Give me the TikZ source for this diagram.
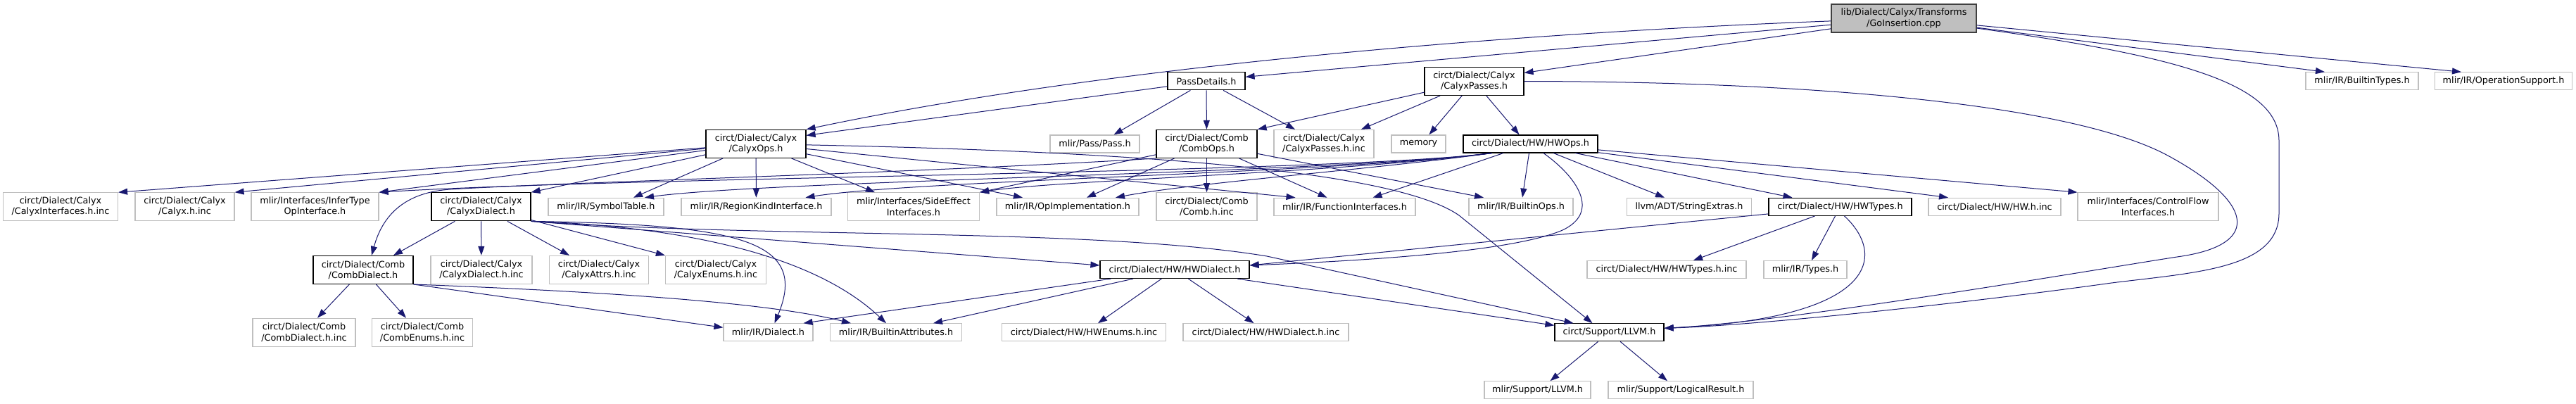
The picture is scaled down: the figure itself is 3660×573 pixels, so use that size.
\documentclass[tikz,border=0pt]{standalone}
\usepackage{fontspec}
\setmainfont{DejaVu Sans}
\usetikzlibrary{arrows.meta}
\definecolor{grey75}{HTML}{BFBFBF}
\definecolor{grey25}{HTML}{404040}
\definecolor{edgeblue}{HTML}{191970}
\newcommand{\nodefont}{\fontsize{12.8pt}{15.3pt}\selectfont}
\tikzset{
  hdr/.style={draw=black, line width=1.2pt, fill=white, inner sep=0pt, minimum height=25pt, align=center, font=\nodefont},
  hdrtwo/.style={hdr, minimum height=40pt},
  leaf/.style={hdr, draw=grey75},
  leaftwo/.style={hdrtwo, draw=grey75},
  rootbox/.style={hdrtwo, fill=grey75, draw=grey25},
  dep/.style={draw=edgeblue, line width=1pt, -{Triangle[length=13pt,width=9pt]}},
}
\begin{document}
\begin{tikzpicture}[x=1pt,y=-1pt]
\fill[white] (0,0) rectangle (3660,573);
\useasboundingbox (0,0) rectangle (3660,573);
% row 0
\node[rootbox, minimum width=206pt] (src) at (2705,26) {lib/Dialect/Calyx/Transforms\\/GoInsertion.cpp};
% row 1
\node[hdr, minimum width=110pt] (passdetails) at (1714,115.3) {PassDetails.h};
\node[hdrtwo, minimum width=141pt] (calyxpasses) at (2094.5,115.5) {circt/Dialect/Calyx\\/CalyxPasses.h};
\node[leaf, minimum width=160pt] (builtintypes) at (3356,115.3) {mlir/IR/BuiltinTypes.h};
\node[leaf, minimum width=195pt] (opsupport) at (3557,115.3) {mlir/IR/OperationSupport.h};
% row 2
\node[hdrtwo, minimum width=142pt] (calyxops) at (1074,204.4) {circt/Dialect/Calyx\\/CalyxOps.h};
\node[leaf, minimum width=127pt] (pass) at (1555.5,204.4) {mlir/Pass/Pass.h};
\node[hdrtwo, minimum width=143pt] (combops) at (1714.5,204.4) {circt/Dialect/Comb\\/CombOps.h};
\node[leaftwo, minimum width=142pt] (cpinc) at (1881,204.4) {circt/Dialect/Calyx\\/CalyxPasses.h.inc};
\node[leaf, minimum width=77pt] (memory) at (2015.5,204.4) {memory};
\node[hdr, minimum width=191pt] (hwops) at (2174.5,204.4) {circt/Dialect/HW/HWOps.h};
% row 3
\node[leaftwo, minimum width=163pt] (cinc) at (86,293.8) {circt/Dialect/Calyx\\/CalyxInterfaces.h.inc};
\node[leaftwo, minimum width=141pt] (calyxinc) at (262.5,293.8) {circt/Dialect/Calyx\\/Calyx.h.inc};
\node[leaftwo, minimum width=181pt] (infer) at (447.5,293.8) {mlir/Interfaces/InferType\\OpInterface.h};
\node[hdrtwo, minimum width=141pt] (calyxdialect) at (683.5,293.8) {circt/Dialect/Calyx\\/CalyxDialect.h};
\node[leaf, minimum width=164pt] (symtab) at (861,293.8) {mlir/IR/SymbolTable.h};
\node[leaf, minimum width=213pt] (regionkind) at (1074.5,293.8) {mlir/IR/RegionKindInterface.h};
\node[leaftwo, minimum width=187pt] (sideeffect) at (1298,293.8) {mlir/Interfaces/SideEffect\\Interfaces.h};
\node[leaf, minimum width=202pt] (opimpl) at (1517,293.8) {mlir/IR/OpImplementation.h};
\node[leaftwo, minimum width=143pt] (combinc) at (1714.5,293.8) {circt/Dialect/Comb\\/Comb.h.inc};
\node[leaf, minimum width=201pt] (funcif) at (1910.5,293.8) {mlir/IR/FunctionInterfaces.h};
\node[leaf, minimum width=148pt] (builtinops) at (2161,293.8) {mlir/IR/BuiltinOps.h};
\node[leaf, minimum width=177pt] (strext) at (2400,293.8) {llvm/ADT/StringExtras.h};
\node[hdr, minimum width=203pt] (hwtypes) at (2614.5,293.8) {circt/Dialect/HW/HWTypes.h};
\node[leaf, minimum width=188pt] (hwinc) at (2834,293.8) {circt/Dialect/HW/HW.h.inc};
\node[leaftwo, minimum width=200pt] (controlflow) at (3052,293.8) {mlir/Interfaces/ControlFlow\\Interfaces.h};
% row 4
\node[hdrtwo, minimum width=142pt] (combdialect) at (516,383.4) {circt/Dialect/Comb\\/CombDialect.h};
\node[leaftwo, minimum width=144pt] (cdinc) at (684,383.4) {circt/Dialect/Calyx\\/CalyxDialect.h.inc};
\node[leaftwo, minimum width=141pt] (cattrs) at (851,383.4) {circt/Dialect/Calyx\\/CalyxAttrs.h.inc};
\node[leaftwo, minimum width=143pt] (cenums) at (1017,383.4) {circt/Dialect/Calyx\\/CalyxEnums.h.inc};
\node[hdr, minimum width=212pt] (hwdialect) at (1669,383) {circt/Dialect/HW/HWDialect.h};
\node[leaf, minimum width=226pt] (hwtinc) at (2368,383) {circt/Dialect/HW/HWTypes.h.inc};
\node[leaf, minimum width=118pt] (types) at (2565,383) {mlir/IR/Types.h};
% row 5
\node[leaftwo, minimum width=146pt] (cdhinc) at (432,472.3) {circt/Dialect/Comb\\/CombDialect.h.inc};
\node[leaftwo, minimum width=143pt] (cenumsinc) at (600,472.3) {circt/Dialect/Comb\\/CombEnums.h.inc};
\node[leaf, minimum width=127pt] (dialect) at (1091.5,472.3) {mlir/IR/Dialect.h};
\node[leaf, minimum width=187pt] (battrs) at (1273,472.3) {mlir/IR/BuiltinAttributes.h};
\node[leaf, minimum width=233pt] (hwenums) at (1540,472.3) {circt/Dialect/HW/HWEnums.h.inc};
\node[leaf, minimum width=235pt] (hwdinc) at (1798.5,472.3) {circt/Dialect/HW/HWDialect.h.inc};
\node[hdr, minimum width=155pt] (llvm) at (2286.5,472.3) {circt/Support/LLVM.h};
% row 6
\node[leaf, minimum width=151pt] (mlirllvm) at (2184.5,554.3) {mlir/Support/LLVM.h};
\node[leaf, minimum width=206pt] (logres) at (2388,554.3) {mlir/Support/LogicalResult.h};

% ---- edges from the source file
\draw[dep] (src) .. controls (2200,45) and (1600,88) .. (calyxops.north east);
\draw[dep] (src) -- ([yshift=6pt]passdetails.east);
\draw[dep] (src) -- ([yshift=12pt]calyxpasses.east);
\draw[dep] (src) .. controls (3100,80) and (3238,120) .. (3238,200) -- (3238,303) .. controls (3238,382) and (3120,387) .. (3000,402) .. controls (2800,430) and (2500,462) .. ([yshift=6pt]llvm.east);
\draw[dep] (src) -- ([xshift=-53pt]builtintypes.north);
\draw[dep] (src) -- ([xshift=-60pt]opsupport.north);
% ---- PassDetails.h
\draw[dep] (passdetails) -- ([yshift=12pt]calyxops.east);
\draw[dep] (passdetails) -- ([xshift=27pt]pass.north);
\draw[dep] (passdetails) -- (combops);
\draw[dep] (passdetails) -- ([xshift=-41pt]cpinc.north);
% ---- CalyxPasses.h
\draw[dep] (calyxpasses) -- (combops.north east);
\draw[dep] (calyxpasses) -- ([xshift=53pt]cpinc.north);
\draw[dep] (calyxpasses) -- ([xshift=15pt]memory.north);
\draw[dep] (calyxpasses) -- ([xshift=-16pt]hwops.north);
\draw[dep] (calyxpasses.east) .. controls (2600,116) and (2950,151) .. (3080,221) .. controls (3200,286) and (3215,346) .. (3100,364) .. controls (3030,374) and (2550,457) .. ([yshift=6pt]llvm.east);
% ---- CalyxOps.h
\draw[dep] (calyxops) -- (cinc.north east);
\draw[dep] (calyxops) -- (calyxinc.north east);
\draw[dep] (calyxops) -- (infer.north east);
\draw[dep] (calyxops) -- (calyxdialect.north east);
\draw[dep] (calyxops) -- ([xshift=39pt]symtab.north);
\draw[dep] (calyxops) -- (regionkind);
\draw[dep] (calyxops) -- ([xshift=-55pt]sideeffect.north);
\draw[dep] (calyxops) -- ([xshift=-64pt]opimpl.north);
\draw[dep] (calyxops) -- ([xshift=-70pt]funcif.north);
\draw[dep] (calyxops) .. controls (1600,215) and (1980,241) .. (2073,306) -- ([xshift=-24pt]llvm.north);
% ---- CombOps.h
\draw[dep] (combops.south west) .. controls (1300,246) and (800,259) .. (640,269) .. controls (580,273) and (545,301) .. ([xshift=12pt]combdialect.north);
\draw[dep] (combops) -- (sideeffect.north east);
\draw[dep] (combops) -- ([xshift=27pt]opimpl.north);
\draw[dep] (combops) -- (combinc);
\draw[dep] (combops) -- ([xshift=-25pt]funcif.north);
\draw[dep] (combops) -- ([xshift=-53pt]builtinops.north);
% ---- HWOps.h
\draw[dep] ([xshift=-55pt]hwops.south) .. controls (1900,246) and (900,251) .. (infer.north east);
\draw[dep] ([xshift=-55pt]hwops.south) .. controls (1900,246) and (1100,256) .. ([xshift=55pt]symtab.north);
\draw[dep] ([xshift=-55pt]hwops.south) .. controls (1900,246) and (1300,256) .. ([xshift=70pt]regionkind.north);
\draw[dep] ([xshift=-55pt]hwops.south) .. controls (1900,246) and (1500,256) .. (sideeffect.north east);
\draw[dep] ([xshift=-55pt]hwops.south) .. controls (1950,241) and (1700,259) .. ([xshift=68pt]opimpl.north);
\draw[dep] (hwops) -- ([xshift=40pt]funcif.north);
\draw[dep] (hwops) -- (builtinops);
\draw[dep] (hwops) .. controls (2240,251) and (2275,301) .. (2220,327) .. controls (2150,357) and (1950,370) .. ([yshift=6pt]hwdialect.east);
\draw[dep] (hwops) -- ([xshift=-35pt]strext.north);
\draw[dep] (hwops) -- ([xshift=-68pt]hwtypes.north);
\draw[dep] (hwops) -- ([xshift=-66pt]hwinc.north);
\draw[dep] (hwops) -- (controlflow.north west);
% ---- CalyxDialect.h
\draw[dep] (calyxdialect) -- ([xshift=43pt]combdialect.north);
\draw[dep] (calyxdialect) -- (cdinc);
\draw[dep] (calyxdialect) -- ([xshift=-42pt]cattrs.north);
\draw[dep] (calyxdialect) -- (cenums.north west);
\draw[dep] (calyxdialect.south east) .. controls (1050,319) and (1150,341) .. ([xshift=9pt]dialect.north);
\draw[dep] (calyxdialect.south east) .. controls (950,321) and (1150,356) .. ([xshift=-14pt]battrs.north);
\draw[dep] (calyxdialect.south east) -- ([yshift=6pt]hwdialect.west);
\draw[dep] (calyxdialect.south east) .. controls (1100,339) and (1550,323) .. (1800,364) -- ([xshift=-51pt]llvm.north);
% ---- CombDialect.h
\draw[dep] (combdialect) -- ([xshift=19pt]cdhinc.north);
\draw[dep] (combdialect) -- ([xshift=-23pt]cenumsinc.north);
\draw[dep] (combdialect.south east) -- ([yshift=7pt]dialect.west);
\draw[dep] (combdialect.south east) .. controls (900,416) and (1100,432) .. ([xshift=-64pt]battrs.north);
% ---- HWDialect.h
\draw[dep] (hwdialect) -- ([xshift=50pt]dialect.north);
\draw[dep] (hwdialect) -- ([xshift=53pt]battrs.north);
\draw[dep] (hwdialect) -- ([xshift=20pt]hwenums.north);
\draw[dep] (hwdialect) -- ([xshift=-17pt]hwdinc.north);
\draw[dep] (hwdialect) -- ([yshift=10pt]llvm.west);
% ---- HWTypes.h
\draw[dep] (hwtypes) -- ([yshift=6pt]hwdialect.east);
\draw[dep] (hwtypes) -- ([xshift=38pt]hwtinc.north);
\draw[dep] (hwtypes) -- ([xshift=9pt]types.north);
\draw[dep] ([xshift=6pt]hwtypes.south) .. controls (2680,362) and (2670,452) .. ([yshift=6pt]llvm.east);
% ---- circt/Support/LLVM.h
\draw[dep] (llvm) -- ([xshift=18pt]mlirllvm.north);
\draw[dep] (llvm) -- ([xshift=-19pt]logres.north);
\end{tikzpicture}
\end{document}
